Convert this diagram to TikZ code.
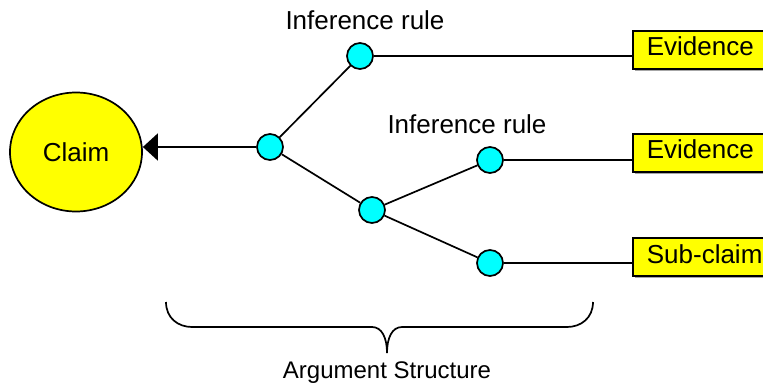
\documentclass[tikz,border=0pt]{standalone}
\usepackage{fontspec}
\setmainfont{Liberation Sans}
\usetikzlibrary{arrows.meta, shapes.geometric, shadows}
\definecolor{claimyellow}{RGB}{255,255,0}
\definecolor{infercyan}{RGB}{0,255,255}
\begin{document}
\begin{tikzpicture}[x=1pt, y=-1pt, line width=1.7pt,
    every node/.style={font=\fontsize{26}{30}\selectfont},
    claim/.style={ellipse, draw, fill=claimyellow, minimum width=132pt, minimum height=119pt, inner sep=0pt},
    infer/.style={circle, draw, fill=infercyan, minimum size=26pt, inner sep=0pt},
    leaf/.style={rectangle, draw, fill=claimyellow, anchor=west, minimum height=38pt, text width=130pt,
        text height=19pt, text depth=7pt, inner xsep=14pt, align=left,
        drop shadow={shadow xshift=2pt, shadow yshift=-2pt, fill=black!35, opacity=1}}]
            \useasboundingbox (0,0) rectangle (763,385);
            \clip (0,0) rectangle (763,385);
            \node[claim] (claim) at (76,152) {Claim};
            \node[infer] (r0) at (270,147) {};
            \node[infer] (r1) at (360,56) {};
            \node[infer] (r2) at (372,210) {};
            \node[infer] (r3) at (490,160) {};
            \node[infer] (r4) at (490,263) {};
            \node[leaf] (e1) at (632,50) {Evidence};
            \node[leaf] (e2) at (632,153) {Evidence};
            \node[leaf] (s1) at (632,257) {Sub-claim};
            \node[anchor=base] (l1) at (365,30) {Inference rule};
            \node[anchor=base] (l2) at (467,134) {Inference rule};
            \node[anchor=base, font=\fontsize{24}{28}\selectfont] (arg) at (387,378) {Argument Structure};
            \draw[-{Triangle[length=15pt, width=27pt]}] (r0) -- (r0 -| claim.east);
            \draw (r0)--(r1) (r0)--(r2) (r2)--(r3) (r2)--(r4);
            \draw (r1)--(r1 -| e1.west) (r3)--(r3 -| e2.west) (r4)--(r4 -| s1.west);
            % brace under the argument part
            \draw (166,302) .. controls (166,318) and (178,327) .. (192,327) -- (372,327)
                .. controls (382,327) and (387,338) .. (387,353)
                .. controls (387,338) and (392,327) .. (402,327) -- (567,327)
                .. controls (581,327) and (593,318) .. (593,302);
        \end{tikzpicture}
\end{document}
